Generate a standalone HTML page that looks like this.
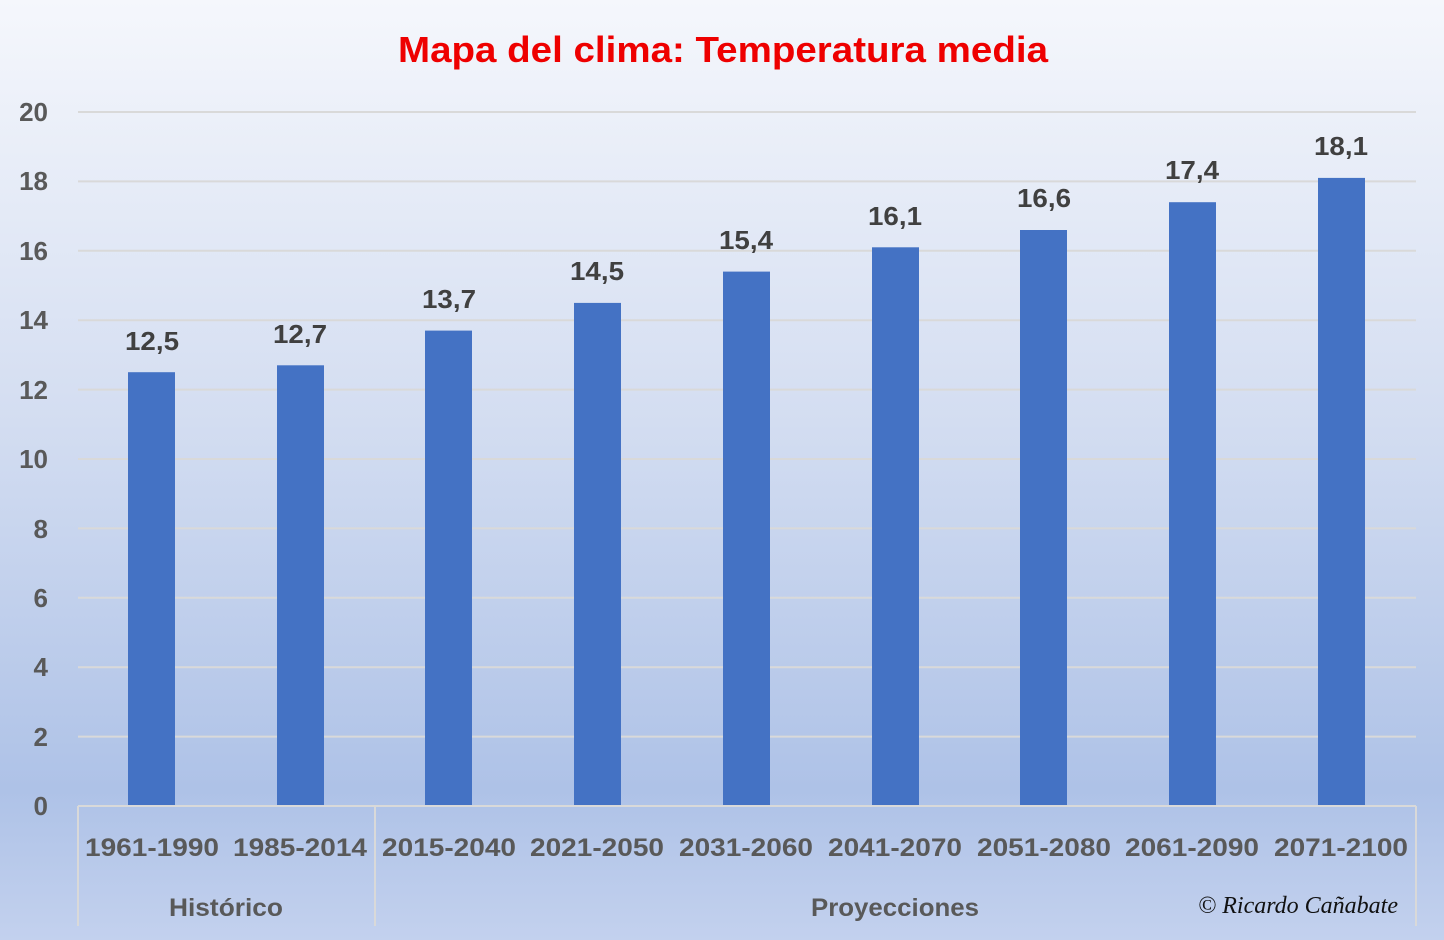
<!DOCTYPE html>
<html><head><meta charset="utf-8"><style>html,body{margin:0;padding:0;}svg{display:block;}</style></head>
<body>
<svg width="1444" height="940" xmlns="http://www.w3.org/2000/svg" font-family="Liberation Sans, sans-serif" font-weight="bold">
<defs><linearGradient id="bg" x1="0" y1="0" x2="0" y2="1">
<stop offset="0" stop-color="#f5f7fc"/><stop offset="0.45" stop-color="#d3ddf1"/><stop offset="0.84" stop-color="#aec2e7"/><stop offset="1" stop-color="#c3d1ee"/></linearGradient></defs>
<rect width="1444" height="940" fill="url(#bg)"/>
<text x="723" y="62" text-anchor="middle" font-size="36" fill="#ee0000" textLength="650" lengthAdjust="spacingAndGlyphs">Mapa del clima: Temperatura media</text>
<g stroke="#d9d9d9" stroke-width="2">
<line x1="78" x2="1416" y1="112" y2="112"/><line x1="78" x2="1416" y1="181.4" y2="181.4"/><line x1="78" x2="1416" y1="250.8" y2="250.8"/><line x1="78" x2="1416" y1="320.2" y2="320.2"/><line x1="78" x2="1416" y1="389.6" y2="389.6"/><line x1="78" x2="1416" y1="459" y2="459"/><line x1="78" x2="1416" y1="528.4" y2="528.4"/><line x1="78" x2="1416" y1="597.8" y2="597.8"/><line x1="78" x2="1416" y1="667.2" y2="667.2"/><line x1="78" x2="1416" y1="736.6" y2="736.6"/>
</g>
<g font-size="26" fill="#595959" text-anchor="end">
<text x="48" y="121">20</text><text x="48" y="190">18</text><text x="48" y="260">16</text><text x="48" y="329">14</text><text x="48" y="399">12</text><text x="48" y="468">10</text><text x="48" y="538">8</text><text x="48" y="607">6</text><text x="48" y="676">4</text><text x="48" y="746">2</text><text x="48" y="815">0</text>
</g>
<g fill="#4472c4">
<rect x="128" y="372.2" width="47" height="433.8"/>
<rect x="277" y="365.3" width="47" height="440.7"/>
<rect x="425" y="330.6" width="47" height="475.4"/>
<rect x="574" y="302.9" width="47" height="503.1"/>
<rect x="723" y="271.6" width="47" height="534.4"/>
<rect x="872" y="247.3" width="47" height="558.7"/>
<rect x="1020" y="230" width="47" height="576"/>
<rect x="1169" y="202.2" width="47" height="603.8"/>
<rect x="1318" y="177.9" width="47" height="628.1"/>
</g>
<g font-size="26" fill="#404040" text-anchor="middle">
<text x="152" y="350" textLength="54" lengthAdjust="spacingAndGlyphs">12,5</text><text x="300" y="343" textLength="54" lengthAdjust="spacingAndGlyphs">12,7</text><text x="449" y="308" textLength="54" lengthAdjust="spacingAndGlyphs">13,7</text><text x="597" y="280" textLength="54" lengthAdjust="spacingAndGlyphs">14,5</text><text x="746" y="249" textLength="54" lengthAdjust="spacingAndGlyphs">15,4</text><text x="895" y="225" textLength="54" lengthAdjust="spacingAndGlyphs">16,1</text><text x="1044" y="207" textLength="54" lengthAdjust="spacingAndGlyphs">16,6</text><text x="1192" y="179" textLength="54" lengthAdjust="spacingAndGlyphs">17,4</text><text x="1341" y="155" textLength="54" lengthAdjust="spacingAndGlyphs">18,1</text>
</g>
<g stroke="#d9d9d9" stroke-width="2" fill="none">
<line x1="78" x2="1416" y1="806" y2="806"/>
<line x1="78" x2="78" y1="806" y2="926"/>
<line x1="375" x2="375" y1="806" y2="926"/>
<line x1="1416" x2="1416" y1="806" y2="926"/>
</g>
<g font-size="25" fill="#595959" text-anchor="middle">
<text x="152" y="856" textLength="134" lengthAdjust="spacingAndGlyphs">1961-1990</text>
<text x="300" y="856" textLength="134" lengthAdjust="spacingAndGlyphs">1985-2014</text>
<text x="449" y="856" textLength="134" lengthAdjust="spacingAndGlyphs">2015-2040</text>
<text x="597" y="856" textLength="134" lengthAdjust="spacingAndGlyphs">2021-2050</text>
<text x="746" y="856" textLength="134" lengthAdjust="spacingAndGlyphs">2031-2060</text>
<text x="895" y="856" textLength="134" lengthAdjust="spacingAndGlyphs">2041-2070</text>
<text x="1044" y="856" textLength="134" lengthAdjust="spacingAndGlyphs">2051-2080</text>
<text x="1192" y="856" textLength="134" lengthAdjust="spacingAndGlyphs">2061-2090</text>
<text x="1341" y="856" textLength="134" lengthAdjust="spacingAndGlyphs">2071-2100</text>
<text x="226" y="916" textLength="114" lengthAdjust="spacingAndGlyphs">Histórico</text>
<text x="895" y="916" textLength="168" lengthAdjust="spacingAndGlyphs">Proyecciones</text>
</g>
<text x="1298" y="913" text-anchor="middle" font-size="24" font-weight="normal" font-style="italic" font-family="Liberation Serif, serif" fill="#111" textLength="200" lengthAdjust="spacingAndGlyphs">© Ricardo Cañabate</text>
</svg>
</body></html>
